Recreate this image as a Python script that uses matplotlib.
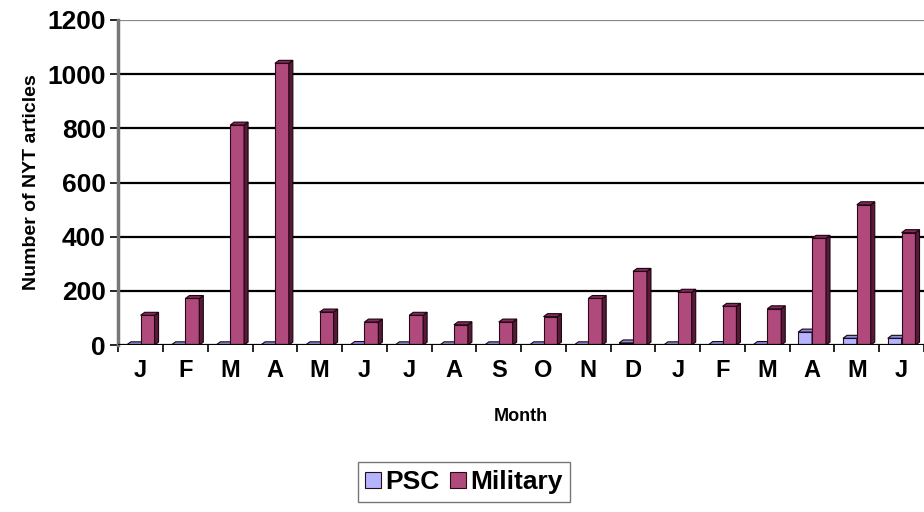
import numpy as np
import matplotlib.pyplot as plt
from matplotlib.patches import Polygon

plt.rcParams['font.family'] = ['Liberation Sans', 'DejaVu Sans']
plt.rcParams['font.weight'] = 'bold'

months = ["J", "F", "M", "A", "M", "J", "J", "A", "S", "O", "N", "D",
          "J", "F", "M", "A", "M", "J"]
psc = [1, 1, 1, 1, 1, 2, 1, 1, 1, 1, 1, 8, 1, 2, 2, 48, 25, 25]
military = [110, 172, 812, 1040, 122, 85, 110, 75, 85, 105, 172, 272,
            195, 143, 134, 394, 518, 415]

fig = plt.figure(figsize=(9.24, 5.12), dpi=100)
ax = fig.add_axes([0.128, 0.326, 0.872, 0.635])

x = np.arange(len(months))
w = 0.31
dx, dy = 0.09, 11

def bars3d(xs, vals, front, side, top):
    rects = ax.bar(xs, vals, width=w, align='edge', color=front,
                   edgecolor='#2a0a18', linewidth=0.8, zorder=3)
    for r in rects:
        x0, h = r.get_x(), r.get_height()
        x1 = x0 + w
        ax.add_patch(Polygon([(x1, 0), (x1 + dx, dy), (x1 + dx, h + dy), (x1, h)],
                             closed=True, facecolor=side, edgecolor='#1a0510',
                             linewidth=0.8, zorder=3))
        ax.add_patch(Polygon([(x0, h), (x0 + dx, h + dy), (x1 + dx, h + dy), (x1, h)],
                             closed=True, facecolor=top, edgecolor='#1a0510',
                             linewidth=0.8, zorder=3))
    return rects

b1 = bars3d(x - w, psc, '#b4b4ff', '#6a6ab0', '#8c8cd8')
b2 = bars3d(x, military, '#b04a7c', '#5a1838', '#86285a')

ax.set_xlim(-0.5, len(months) - 0.5)
ax.set_ylim(0, 1200)
ax.set_yticks(range(0, 1201, 200))
ax.set_xticks(x)
ax.set_xticklabels(months, fontsize=17, fontweight='bold')
ax.set_xticks(np.arange(-0.5, len(months), 1), minor=True)
ax.tick_params(axis='x', which='major', length=0, pad=10)
ax.tick_params(axis='x', which='minor', length=5, width=1.2, direction='out')
ax.tick_params(axis='y', labelsize=19, length=6, width=1.2, direction='out', pad=3)
for lbl in ax.get_yticklabels():
    lbl.set_fontweight('bold')

for v in range(200, 1001, 200):
    ax.axhline(v, color='black', linewidth=1.6, zorder=1)
ax.axhline(1200, color='#888888', linewidth=1.6, zorder=1)
ax.axhline(0, color='black', linewidth=1.6, zorder=4)

for s in ['top', 'right', 'bottom']:
    ax.spines[s].set_visible(False)
ax.spines['left'].set_color('#777777')
ax.spines['left'].set_linewidth(2.5)

ax.set_xlabel("Month", fontsize=13, fontweight='bold', labelpad=19)
ax.set_ylabel("Number of NYT articles", fontsize=14, fontweight='bold', labelpad=5)

leg = fig.legend([b1, b2], ["PSC", "Military"], loc='center',
                 bbox_to_anchor=(0.502, 0.058), ncol=2, frameon=True,
                 fancybox=False, edgecolor='#555555', fontsize=19,
                 handlelength=0.6, handleheight=0.6, handletextpad=0.15,
                 columnspacing=0.4, borderpad=0.3, borderaxespad=0)
for t in leg.get_texts():
    t.set_fontweight('bold')

fig.savefig("out.png", dpi=100)
